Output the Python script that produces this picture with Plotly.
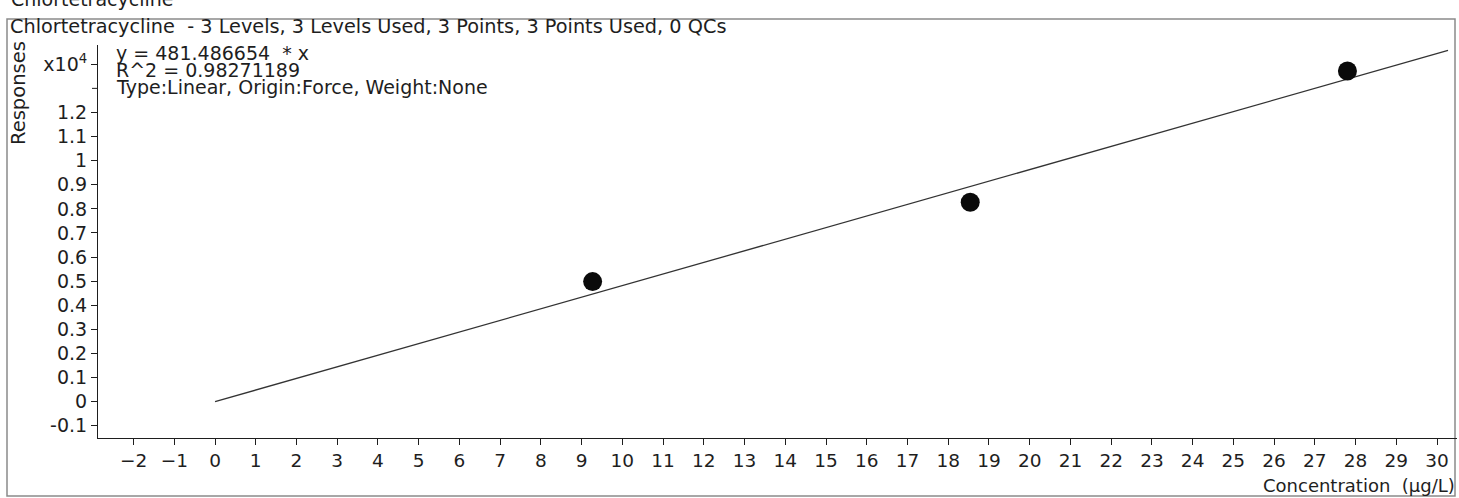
import plotly.graph_objects as go

# Calibration data (concentration in µg/L, detector response)
conc = [9.27, 18.54, 27.8]
resp = [4980, 8270, 13720]

slope = 481.486654
r_squared = 0.98271189
fit_x = [0, 30.27]
fit_y = [slope * x for x in fit_x]

x_ticks = list(range(-2, 31))
y_tick_vals = [-1000, 0, 1000, 2000, 3000, 4000, 5000, 6000, 7000, 8000, 9000,
               10000, 11000, 12000, 14000]
y_tick_text = ["-0.1", "0", "0.1", "0.2", "0.3", "0.4", "0.5", "0.6", "0.7", "0.8",
               "0.9", "1", "1.1", "1.2", "x10<sup>4</sup>"]
y_unlabeled_tick = 13000

W, H = 1459, 498
L, R, T, B = 98, 2, 45, 60
PW, PH = W - L - R, H - T - B


def px(x):
    return (x - L) / PW


def py(y):
    return (H - B - y) / PH


FONT = "DejaVu Sans, Verdana, sans-serif"
FS = 19
INK = "#1e1e1e"

fig = go.Figure()
fig.add_trace(go.Scatter(x=fit_x, y=fit_y, mode="lines",
                         line=dict(color="#333333", width=1.3),
                         hoverinfo="skip", showlegend=False))
fig.add_trace(go.Scatter(x=conc, y=resp, mode="markers",
                         marker=dict(color="#0a0a0a", size=19),
                         showlegend=False))

fig.update_layout(
    width=W, height=H,
    margin=dict(l=L, r=R, t=T, b=B),
    paper_bgcolor="white", plot_bgcolor="white",
    font=dict(family=FONT, size=FS, color=INK),
    xaxis=dict(range=[-2.873, 30.49], tickvals=x_ticks, ticks="outside",
               ticklen=6, tickcolor=INK, showline=True, linecolor=INK,
               linewidth=1, showgrid=False, zeroline=False,
               tickfont=dict(size=FS - 0.5, family=FONT, color=INK)),
    yaxis=dict(range=[-1510, 14800], tickvals=y_tick_vals, ticktext=y_tick_text,
               ticks="outside", ticklen=6, tickcolor=INK, showline=True,
               linecolor=INK, linewidth=1, showgrid=False, zeroline=False,
               tickfont=dict(size=FS, family=FONT, color=INK)),
)

# Unlabelled 1.3 tick on the response axis
fig.add_shape(type="line", xref="paper", yref="y",
              x0=-6 / PW, x1=0, y0=y_unlabeled_tick, y1=y_unlabeled_tick,
              line=dict(color=INK, width=1))

annos = [
    dict(text="Chlortetracycline", x=px(9), y=py(-1), xanchor="left",
         yanchor="middle", size=FS),
    dict(text="Chlortetracycline  - 3 Levels, 3 Levels Used, 3 Points, 3 Points Used, 0 QCs",
         x=px(8), y=py(27), xanchor="left", yanchor="middle", size=FS + 0.3),
    dict(text=f"y = {slope:.6f}  * x", x=px(114), y=py(53), xanchor="left",
         yanchor="middle", size=FS),
    dict(text=f"R^2 = {r_squared:.8f}", x=px(114), y=py(70), xanchor="left",
         yanchor="middle", size=FS),
    dict(text="Type:Linear, Origin:Force, Weight:None", x=px(114), y=py(87),
         xanchor="left", yanchor="middle", size=FS),
    dict(text="Responses", x=px(18), y=py(93), xanchor="center", yanchor="middle",
         textangle=-90, size=FS + 0.5),
    dict(text="Concentration  (µg/L)", x=px(1457), y=py(485), xanchor="right",
         yanchor="middle", size=FS - 1),
]
for a in annos:
    size = a.pop("size")
    a.update(xref="paper", yref="paper", showarrow=False,
             font=dict(family=FONT, size=size, color=INK))
    fig.add_annotation(**a)

# Outer report frame
fig.add_shape(type="rect", xref="paper", yref="paper",
              x0=px(7), x1=px(1455), y0=py(496), y1=py(19),
              line=dict(color="#8a8a8a", width=1.5), layer="below")

fig.write_html("out.html")
